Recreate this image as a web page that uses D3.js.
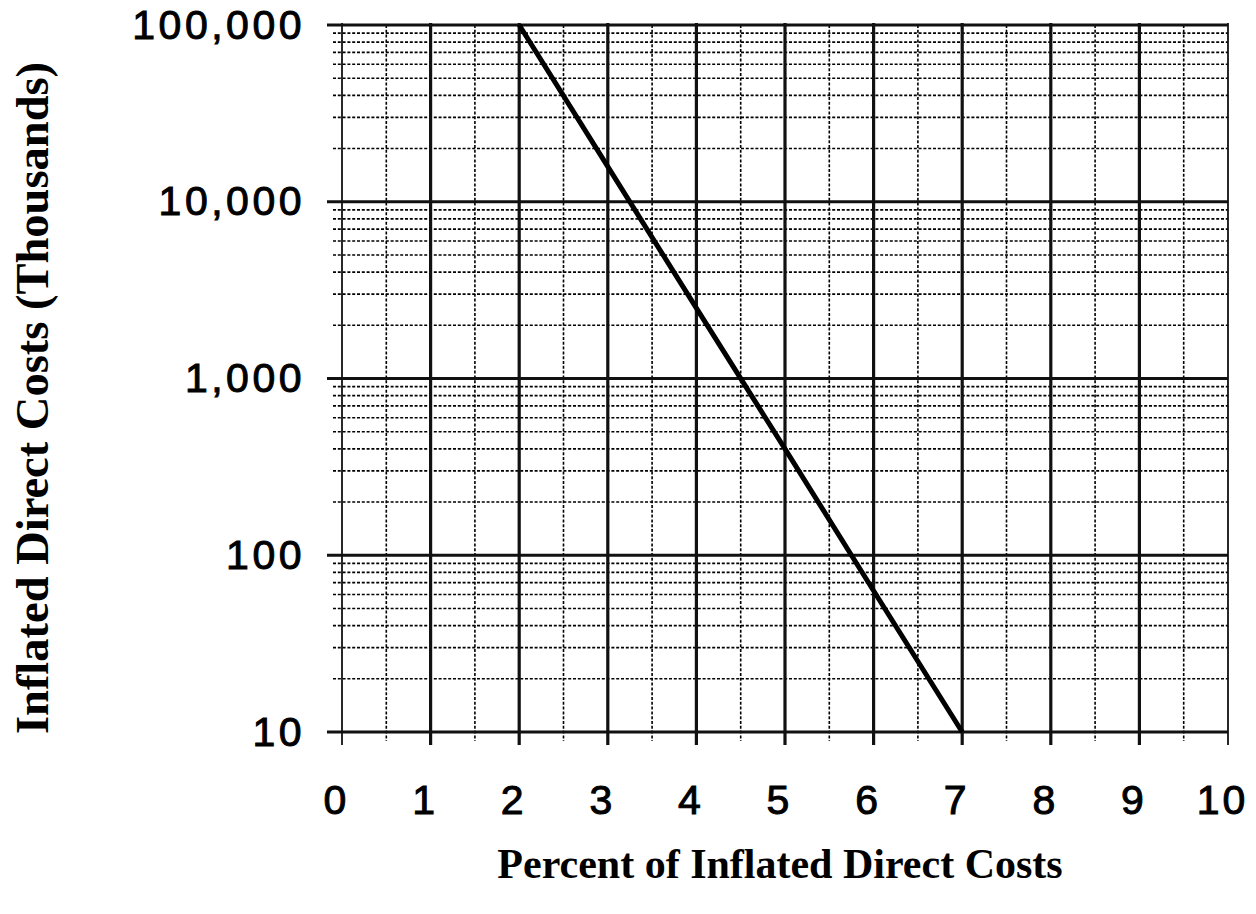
<!DOCTYPE html>
<html><head><meta charset="utf-8">
<script src="https://cdn.jsdelivr.net/npm/d3@7"></script>
<style>body{margin:0;background:#fff}</style></head>
<body>
<svg id="c" width="1256" height="914"></svg>
<script>
// ---- data ----
const percent = [2, 3, 4, 5, 6, 7];
const costs = [100000, 15800, 2500, 400, 63, 10];
const xTicks = [0, 1, 2, 3, 4, 5, 6, 7, 8, 9, 10];
const xMinorTicks = [0.5, 1.5, 2.5, 3.5, 4.5, 5.5, 6.5, 7.5, 8.5, 9.5];
const yTicks = [10, 100, 1000, 10000, 100000];
const yTickLabels = ["10", "100", "1,000", "10,000", "100,000"];
const yMinorMultipliers = [2, 3, 4, 5, 6, 7, 8, 9];
const xTitle = "Percent of Inflated Direct Costs";
const yTitle = "Inflated Direct Costs (Thousands)";

// ---- layout ----
const m = {left: 342, right: 1228, top: 25, bottom: 732};
const svg = d3.select("#c");
const x = d3.scaleLinear().domain([0, 10]).range([m.left, m.right]);
const y = d3.scaleLog().domain([10, 100000]).range([m.bottom, m.top]);

const yMinor = [];
yTicks.slice(0, -1).forEach(d => yMinorMultipliers.forEach(k => yMinor.push(d * k)));

const g = svg.append("g");

// minor horizontal grid
g.selectAll(".hmin").data(yMinor).join("line")
  .attr("x1", m.left - 9).attr("x2", m.right)
  .attr("y1", d => y(d)).attr("y2", d => y(d))
  .attr("stroke", "#000").attr("stroke-width", 1.6).attr("stroke-dasharray", "3,1.8");

// minor vertical grid
g.selectAll(".vmin").data(xMinorTicks).join("line")
  .attr("x1", d => x(d)).attr("x2", d => x(d))
  .attr("y1", m.top).attr("y2", m.bottom + 9)
  .attr("stroke", "#000").attr("stroke-width", 1.6).attr("stroke-dasharray", "3,1.8");

// major horizontal grid
g.selectAll(".hmaj").data(yTicks).join("line")
  .attr("x1", m.left - 15).attr("x2", m.right)
  .attr("y1", d => y(d)).attr("y2", d => y(d))
  .attr("stroke", "#111").attr("stroke-width", 3);

// major vertical grid
g.selectAll(".vmaj").data(xTicks).join("line")
  .attr("x1", d => x(d)).attr("x2", d => x(d))
  .attr("y1", m.top - 2).attr("y2", m.bottom + 13)
  .attr("stroke", "#111")
  .attr("stroke-width", d => (d === 0 || d === 10) ? 1.8 : 3.2);

// data line
const line = d3.line().x((d, i) => x(percent[i])).y(d => y(d));
svg.append("path").datum(costs)
  .attr("d", line)
  .attr("fill", "none").attr("stroke", "#000").attr("stroke-width", 5);

// axes labels
const fontTick = "'Liberation Sans', Arial, sans-serif";
const yAxis = d3.axisLeft(y).tickValues(yTicks).tickSize(0).tickPadding(37)
  .tickFormat((d, i) => yTickLabels[i]);
const ya = svg.append("g").attr("transform", `translate(${m.left},0)`).call(yAxis);
ya.select(".domain").remove();
ya.selectAll("text").attr("font-family", fontTick).attr("font-size", 41)
  .attr("fill", "#000").attr("stroke", "#000").attr("stroke-width", 1)
  .attr("letter-spacing", "3.5px");

const xAxis = d3.axisBottom(x).tickValues(xTicks).tickSize(0).tickPadding(53)
  .tickFormat(d3.format("d"));
const xa = svg.append("g").attr("transform", `translate(0,${m.bottom})`).call(xAxis);
xa.select(".domain").remove();
xa.selectAll("text").attr("font-family", fontTick).attr("font-size", 41)
  .attr("fill", "#000").attr("stroke", "#000").attr("stroke-width", 1)
  .attr("letter-spacing", "3px").attr("dx", -6);

// titles
const fontTitle = "'Liberation Serif', 'Times New Roman', serif";
svg.append("text").text(xTitle)
  .attr("x", 780).attr("y", 878)
  .attr("text-anchor", "middle")
  .attr("font-family", fontTitle).attr("font-weight", "bold").attr("font-size", 42)
  .attr("fill", "#000");

svg.append("text").text(yTitle)
  .attr("transform", "translate(48,398) rotate(-90)")
  .attr("text-anchor", "middle")
  .attr("font-family", fontTitle).attr("font-weight", "bold").attr("font-size", 46.5)
  .attr("fill", "#000");
</script>
</body></html>
